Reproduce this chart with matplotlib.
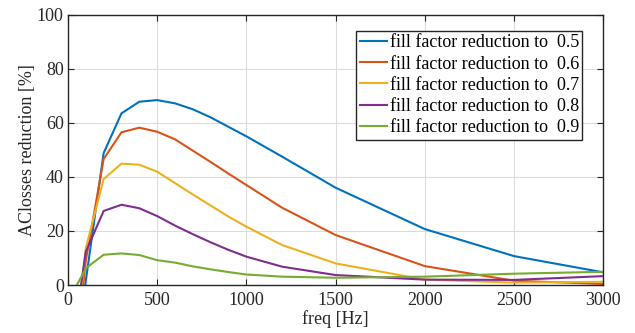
import numpy as np
import matplotlib
matplotlib.use('Agg')
import matplotlib.pyplot as plt

plt.rcParams['font.family'] = ['Liberation Serif', 'DejaVu Serif']
plt.rcParams['font.size'] = 13

freq = [50, 100, 200, 300, 400, 500, 600, 700, 800, 900, 1000, 1200, 1500, 2000, 2500, 3000]

red_05 = [-24, 1.5, 48.8, 63.5, 67.8, 68.4, 67.2, 65.0, 62.0, 58.5, 55.0, 47.5, 36.0, 20.7, 10.7, 4.7]
red_06 = [-23, 9.0, 46.6, 56.5, 58.2, 56.7, 53.9, 49.7, 45.5, 41.2, 37.0, 28.6, 18.5, 7.0, 1.6, 0.4]
red_07 = [-17, 13.6, 39.2, 44.9, 44.5, 41.9, 37.7, 33.5, 29.4, 25.3, 21.6, 14.8, 8.0, 2.0, 0.9, 1.2]
red_08 = [-10.5, 12.3, 27.4, 29.7, 28.4, 25.5, 22.0, 18.8, 15.8, 13.0, 10.5, 6.8, 3.7, 2.0, 1.9, 3.3]
red_09 = [0.0, 6.2, 11.2, 11.7, 11.1, 9.2, 8.3, 6.9, 5.8, 4.8, 3.9, 3.1, 2.7, 3.1, 4.2, 4.9]

series = [red_05, red_06, red_07, red_08, red_09]
labels = ['fill factor reduction to  0.5', 'fill factor reduction to  0.6',
          'fill factor reduction to  0.7', 'fill factor reduction to  0.8',
          'fill factor reduction to  0.9']
colors = ['#0072BD', '#D95319', '#EDB120', '#7E2F8E', '#77AC30']

fig = plt.figure(figsize=(6.35, 3.33), dpi=100)
ax = fig.add_axes([0.107, 0.144, 0.843, 0.812])

for y, lab, c in zip(series, labels, colors):
    ax.plot(freq, y, color=c, lw=1.5, label=lab)

ax.set_xlim(0, 3000)
ax.set_ylim(0, 100)
ax.set_xticks(np.arange(0, 3001, 500))
ax.set_yticks(np.arange(0, 101, 20))
ax.grid(True, color='#dcdcdc', lw=0.8)
ax.set_axisbelow(True)
ax.tick_params(direction='in', top=True, right=True, length=4, colors='#262626',
               labelcolor='#262626', labelsize=13)
ax.tick_params(axis='x', pad=5)
ax.tick_params(axis='y', pad=3)
for s in ax.spines.values():
    s.set_color('#262626')
    s.set_linewidth(1.0)

ax.set_xlabel('freq [Hz]', color='#262626', labelpad=1)
ax.set_ylabel('AClosses reduction [%]', color='#262626', labelpad=1)

leg = ax.legend(loc='upper right', bbox_to_anchor=(0.961, 0.94), borderaxespad=0,
                fancybox=False, framealpha=1, edgecolor='#262626',
                handlelength=1.5, handletextpad=0.15, borderpad=0.2,
                labelspacing=0.23, fontsize=13)
leg.get_frame().set_linewidth(1.0)

fig.savefig('out.png', dpi=100)
